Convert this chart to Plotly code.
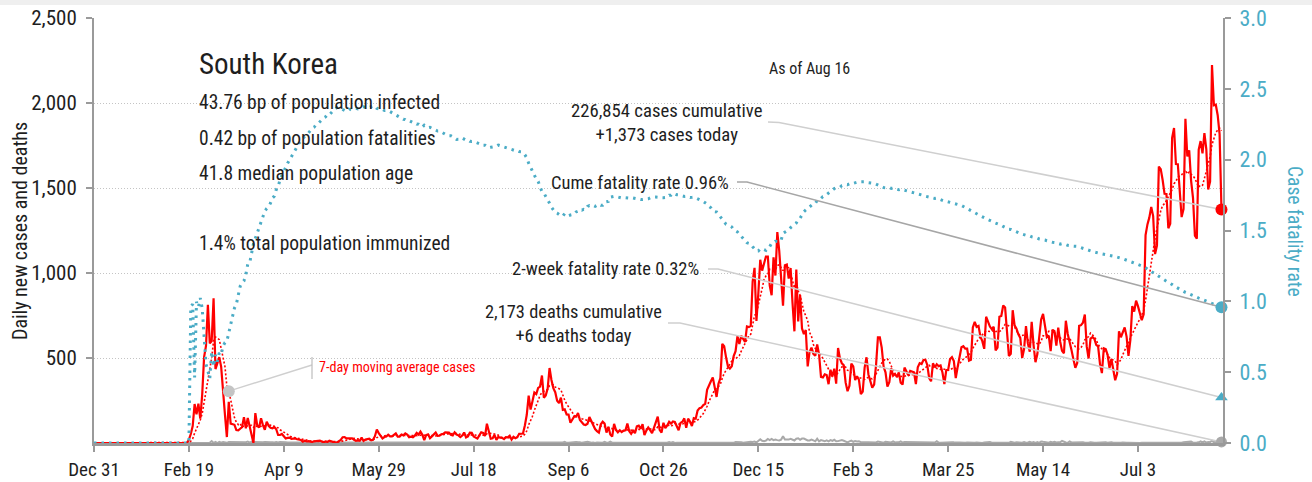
import datetime as dt
import pandas as pd
import plotly.graph_objects as go

# ---------------------------------------------------------------- data
START = "2019-12-31"

# daily new cases, one list per month
cases_2019_12 = [0]
cases_2020_01 = [0, 0, 0, 0, 0, 0, 0, 0, 0, 0, 0, 0, 0, 0, 0, 0, 0, 0, 0, 1,
                 0, 0, 0, 1, 0, 1, 1, 0, 0, 3, 4]
cases_2020_02 = [1, 3, 0, 1, 3, 4, 1, 0, 3, 0, 1, 0, 0, 0, 0, 1, 1, 1, 20, 53,
                 100, 229, 169, 231, 144, 284, 505, 571, 813]
cases_2020_03 = [586, 599, 851, 435, 467, 505, 448, 272, 165, 35, 242, 114, 110, 107, 76, 74,
                 84, 93, 152, 87, 147, 98, 64, 0, 176, 104, 91, 146, 105, 78, 125]
cases_2020_04 = [101, 89, 86, 94, 81, 47, 47, 53, 39, 27, 30, 32, 25, 27, 27, 22, 22, 18, 8, 13,
                 9, 11, 8, 6, 10, 10, 10, 14, 9, 4]
cases_2020_05 = [9, 6, 13, 8, 3, 2, 4, 12, 18, 34, 35, 27, 26, 29, 27, 19, 13, 15, 13, 32,
                 12, 20, 23, 25, 16, 19, 40, 79, 58, 39, 27]
cases_2020_06 = [35, 38, 49, 39, 39, 51, 57, 38, 38, 50, 45, 56, 49, 34, 37, 34, 43, 59, 49, 67,
                 48, 17, 46, 51, 28, 39, 51, 62, 42, 43]
cases_2020_07 = [51, 54, 63, 63, 61, 48, 44, 63, 50, 45, 35, 44, 62, 33, 39, 61, 60, 39, 34, 26,
                 45, 63, 59, 41, 113, 58, 25, 28, 48, 18, 36]
cases_2020_08 = [31, 30, 23, 34, 33, 43, 20, 36, 28, 34, 54, 56, 56, 103, 166, 279, 197, 246, 297, 288,
                 324, 332, 397, 266, 280, 320, 441, 371, 323, 299, 248]
cases_2020_09 = [235, 267, 195, 198, 168, 167, 119, 136, 156, 155, 176, 136, 121, 109, 106, 113,
                 153, 126, 110, 82, 70, 61, 110, 125, 114, 61, 95, 50, 38, 113]
cases_2020_10 = [77, 63, 75, 64, 73, 75, 114, 69, 54, 72, 58, 98, 102, 84, 110, 47, 73, 91, 76, 58,
                 89, 121, 155, 77, 61, 119, 88, 103, 125, 114, 127]
cases_2020_11 = [124, 97, 75, 118, 125, 145, 89, 143, 126, 100, 146, 143, 191, 205, 208, 223,
                 230, 313, 343, 363, 386, 330, 271, 349, 382, 583, 569, 504, 450, 438]
cases_2020_12 = [451, 511, 540, 629, 583, 631, 615, 594, 686, 682, 689, 950, 1030, 718, 880, 1078,
                 1014, 1064, 1097, 1097, 926, 869, 1092, 985, 1241, 1132, 970, 808, 1045, 1050, 967]
cases_2021_01 = [1029, 824, 657, 1020, 715, 870, 674, 641, 665, 451, 537, 561, 524, 513, 580, 520,
                 389, 386, 404, 400, 346, 431, 392, 437, 349, 559, 497, 469, 458, 355, 305]
cases_2021_02 = [336, 467, 451, 370, 393, 372, 288, 303, 444, 504, 403, 362, 326, 343, 457, 621,
                 621, 561, 448, 416, 332, 357, 440, 396, 406, 388, 415, 355]
cases_2021_03 = [344, 444, 424, 398, 424, 418, 416, 346, 446, 470, 465, 488, 490, 459, 382, 363,
                 469, 445, 463, 452, 456, 415, 346, 428, 430, 494, 505, 482, 382, 447, 506]
cases_2021_04 = [563, 569, 555, 555, 485, 490, 680, 712, 683, 689, 626, 599, 554, 743, 710, 685,
                 670, 684, 544, 561, 743, 747, 809, 797, 656, 512, 524, 781, 692, 673]
cases_2021_05 = [639, 618, 500, 553, 688, 586, 537, 713, 576, 475, 523, 647, 727, 759, 693, 622,
                 631, 540, 666, 658, 573, 678, 597, 542, 528, 719, 641, 599, 545, 492, 442]
cases_2021_06 = [471, 689, 693, 707, 756, 568, 497, 614, 623, 614, 577, 568, 464, 411, 557, 552,
                 519, 441, 494, 441, 369, 407, 657, 622, 646, 680, 626, 513, 607, 806]
cases_2021_07 = [773, 837, 805, 754, 722, 757, 1223, 1286, 1327, 1389, 1335, 1111, 1161, 1626, 1611,
                 1547, 1466, 1465, 1263, 1289, 1795, 1853, 1641, 1640, 1498, 1329, 1376, 1907,
                 1685, 1721, 1542]
cases_2021_08 = [1442, 1219, 1202, 1725, 1776, 1704, 1823, 1729, 1492, 1537, 2223, 1987, 1990,
                 1928, 1817, 1373]

# daily new deaths, one list per month
deaths_2019_12 = [0]
deaths_2020_01 = [0] * 31
deaths_2020_02 = [0, 0, 0, 0, 0, 0, 0, 0, 0, 0, 0, 0, 0, 0, 0, 0, 0, 0, 0, 1,
                  1, 0, 4, 2, 2, 2, 1, 0, 3]
deaths_2020_03 = [1, 11, 0, 7, 0, 7, 2, 6, 3, 1, 6, 6, 6, 5, 3, 6, 6, 3, 3, 5,
                  8, 2, 7, 6, 6, 5, 5, 5, 5, 6, 4]
deaths_2020_04 = [3, 4, 5, 3, 6, 3, 6, 4, 4, 4, 3, 3, 3, 3, 3, 4, 2, 2, 2, 2,
                  1, 2, 2, 2, 1, 2, 1, 2, 2, 1]
deaths_2020_05 = [1, 2, 0, 2, 2, 1, 1, 0, 0, 0, 0, 0, 1, 2, 0, 1, 1, 0, 1, 1,
                  1, 0, 1, 0, 1, 1, 1, 0, 1, 0, 1]
deaths_2020_06 = [0, 1, 1, 0, 0, 0, 1, 0, 0, 0, 0, 1, 0, 1, 0, 0, 1, 0, 1, 0,
                  0, 2, 0, 0, 1, 0, 0, 1, 0, 1]
deaths_2020_07 = [0, 0, 0, 1, 1, 1, 0, 0, 0, 1, 2, 1, 0, 0, 1, 0, 1, 1, 0, 0,
                  0, 0, 1, 1, 1, 0, 1, 1, 1, 1, 2]
deaths_2020_08 = [0, 0, 0, 0, 0, 0, 0, 0, 0, 1, 0, 1, 0, 0, 0, 0, 0, 0, 1, 1,
                  3, 0, 1, 3, 1, 2, 2, 1, 2, 1, 3]
deaths_2020_09 = [2, 2, 3, 7, 1, 1, 3, 3, 3, 6, 4, 5, 1, 3, 1, 7, 4, 1, 3, 0,
                  3, 3, 0, 2, 7, 2, 2, 8, 2, 2]
deaths_2020_10 = [1, 0, 0, 1, 2, 1, 1, 1, 1, 2, 0, 1, 1, 1, 2, 1, 1, 3, 3, 2,
                  2, 2, 2, 1, 1, 2, 2, 2, 6, 2, 6]
deaths_2020_11 = [0, 1, 1, 1, 2, 1, 2, 1, 1, 2, 3, 1, 2, 2, 1, 2, 2, 2, 1, 3,
                  1, 2, 4, 1, 2, 2, 3, 2, 5, 5]
deaths_2020_12 = [4, 1, 6, 6, 3, 4, 1, 3, 5, 8, 7, 6, 8, 3, 12, 22, 13, 11, 14, 24,
                  17, 24, 17, 20, 17, 15, 20, 40, 20, 20, 20]
deaths_2021_01 = [25, 19, 15, 25, 28, 19, 26, 26, 19, 15, 15, 20, 15, 10, 25, 10, 17, 15, 10, 15,
                  10, 17, 13, 19, 10, 11, 12, 17, 13, 8, 4]
deaths_2021_02 = [10, 14, 7, 11, 9, 10, 5, 6, 8, 5, 5, 5, 6, 6, 3, 8, 7, 3, 2, 7,
                  6, 7, 3, 9, 3, 4, 4, 10]
deaths_2021_03 = [3, 6, 6, 4, 3, 4, 3, 2, 6, 4, 5, 3, 4, 4, 5, 3, 6, 3, 10, 2,
                  1, 2, 3, 6, 4, 7, 5, 4, 3, 6, 5]
deaths_2021_04 = [1, 2, 2, 3, 2, 1, 3, 2, 3, 1, 2, 0, 3, 5, 4, 6, 2, 2, 4, 4,
                  4, 4, 3, 2, 3, 1, 7, 4, 2, 4]
deaths_2021_05 = [2, 4, 2, 6, 2, 3, 7, 2, 6, 1, 5, 1, 9, 7, 6, 2, 2, 7, 3, 7,
                  3, 4, 4, 12, 6, 3, 1, 9, 3, 3, 6]
deaths_2021_06 = [4, 3, 2, 4, 1, 0, 2, 5, 2, 1, 2, 3, 3, 2, 2, 4, 1, 3, 4, 1,
                  0, 2, 1, 1, 3, 1, 1, 2, 1, 1]
deaths_2021_07 = [1, 2, 1, 0, 1, 1, 1, 1, 2, 3, 0, 2, 1, 3, 3, 2, 2, 1, 1, 3,
                  2, 2, 3, 0, 1, 2, 5, 5, 7, 5, 8]
deaths_2021_08 = [2, 1, 3, 4, 9, 3, 9, 2, 6, 5, 13, 4, 7, 4, 3, 6]

stat_lines = ["43.76 bp of population infected",
              "0.42 bp of population fatalities",
              "41.8 median population age",
              "",
              "1.4% total population immunized"]
COUNTRY = "South Korea"
MA_LABEL_DATE = "2020-03-11"

y_ticks = [500, 1000, 1500, 2000, 2500]
y2_ticks = [0, 0.5, 1.0, 1.5, 2.0, 2.5, 3.0]

# ---------------------------------------------------------------- series
case_months = [cases_2019_12, cases_2020_01, cases_2020_02, cases_2020_03, cases_2020_04,
               cases_2020_05, cases_2020_06, cases_2020_07, cases_2020_08, cases_2020_09,
               cases_2020_10, cases_2020_11, cases_2020_12, cases_2021_01, cases_2021_02,
               cases_2021_03, cases_2021_04, cases_2021_05, cases_2021_06, cases_2021_07,
               cases_2021_08]
death_months = [deaths_2019_12, deaths_2020_01, deaths_2020_02, deaths_2020_03, deaths_2020_04,
                deaths_2020_05, deaths_2020_06, deaths_2020_07, deaths_2020_08, deaths_2020_09,
                deaths_2020_10, deaths_2020_11, deaths_2020_12, deaths_2021_01, deaths_2021_02,
                deaths_2021_03, deaths_2021_04, deaths_2021_05, deaths_2021_06, deaths_2021_07,
                deaths_2021_08]
for cm, dm in zip(case_months, death_months):
    assert len(cm) == len(dm), (len(cm), len(dm))

cases = [v for m in case_months for v in m]
deaths = [v for m in death_months for v in m]
dates = pd.date_range(START, periods=len(cases), freq="D")

s_cases = pd.Series(cases, index=dates, dtype=float)
s_deaths = pd.Series(deaths, index=dates, dtype=float)
ma7 = s_cases.rolling(7, min_periods=1).mean()
cum_cases = s_cases.cumsum()
cum_deaths = s_deaths.cumsum()
cfr = (cum_deaths / cum_cases * 100).where(cum_cases > 0, 0.0)
cfr_2wk = s_deaths.iloc[-14:].sum() / s_cases.iloc[-14:].sum() * 100

total_cases = int(cum_cases.iloc[-1])
total_deaths = int(cum_deaths.iloc[-1])
last_day = dates[-1]

# ---------------------------------------------------------------- geometry
W, H = 1312, 482
L, R, T, B = 94, 89, 18, 39
PW, PH = W - L - R, H - T - B
X_SPAN_DAYS = 594.8
Y_MAX, Y2_MAX = 2500, 3.0


def px_date(px):
    return dates[0] + pd.Timedelta(days=(px - L) / PW * X_SPAN_DAYS)


def py_val(py):
    return (T + PH - py) / PH * Y_MAX


def py_val2(py):
    return (T + PH - py) / PH * Y2_MAX


def paper_x(px):
    return (px - L) / PW


def paper_y(py):
    return (T + PH - py) / PH


RED = "#ff0000"
TEAL = "#4bacc6"
GREY = "#a9a9a9"
LEADER = "#cfcfcf"
INK = "#1e1e1e"
AXIS = "#9a9a9a"
FONT = "Roboto Condensed, Liberation Sans Narrow, DejaVu Sans Condensed, sans-serif"

fig = go.Figure()

# deaths, moving average, daily cases
fig.add_trace(go.Scatter(x=dates, y=s_deaths, mode="lines",
                         line=dict(color=GREY, width=2), hoverinfo="skip"))
fig.add_trace(go.Scatter(x=dates, y=ma7, mode="lines",
                         line=dict(color=RED, width=1.6, dash="2px,2px"), hoverinfo="skip"))
fig.add_trace(go.Scatter(x=dates, y=s_cases, mode="lines",
                         line=dict(color=RED, width=2.2), hoverinfo="skip"))

# leader lines for the case/death callouts (left axis)
fig.add_trace(go.Scatter(x=[px_date(768), px_date(779), last_day],
                         y=[py_val(122), py_val(122.5), s_cases.iloc[-1]],
                         mode="lines", line=dict(color=LEADER, width=1.6), hoverinfo="skip",
                         cliponaxis=False))
fig.add_trace(go.Scatter(x=[px_date(668), px_date(680), last_day],
                         y=[py_val(323), py_val(323), s_deaths.iloc[-1]],
                         mode="lines", line=dict(color=LEADER, width=1.6), hoverinfo="skip",
                         cliponaxis=False))
ma_pt = pd.Timestamp(MA_LABEL_DATE)
fig.add_trace(go.Scatter(x=[ma_pt, px_date(312)], y=[ma7.loc[ma_pt], py_val(365)],
                         mode="lines", line=dict(color=LEADER, width=1.4), hoverinfo="skip"))
fig.add_trace(go.Scatter(x=[px_date(312), px_date(312)], y=[py_val(357), py_val(379)],
                         mode="lines", line=dict(color="#bdbdbd", width=1.2), hoverinfo="skip"))

# end markers on the left axis
fig.add_trace(go.Scatter(x=[ma_pt], y=[ma7.loc[ma_pt]], mode="markers",
                         marker=dict(color="#c4c4c4", size=12), hoverinfo="skip"))
fig.add_trace(go.Scatter(x=[last_day], y=[s_deaths.iloc[-1]], mode="markers",
                         marker=dict(color=GREY, size=11), hoverinfo="skip", cliponaxis=False))
fig.add_trace(go.Scatter(x=[last_day], y=[s_cases.iloc[-1]], mode="markers",
                         marker=dict(color=RED, size=12), hoverinfo="skip", cliponaxis=False))

# case fatality rate (right axis)
fig.add_trace(go.Scatter(x=dates, y=cfr, yaxis="y2", mode="lines",
                         line=dict(color=TEAL, width=3, dash="2.5px,5px"), hoverinfo="skip"))
fig.add_trace(go.Scatter(x=[px_date(737), px_date(747), last_day],
                         y=[py_val2(182), py_val2(182), cfr.iloc[-1]], yaxis="y2",
                         mode="lines", line=dict(color="#a6a6a6", width=1.6), hoverinfo="skip",
                         cliponaxis=False))
fig.add_trace(go.Scatter(x=[px_date(708), px_date(718), last_day],
                         y=[py_val2(269), py_val2(269), cfr_2wk], yaxis="y2",
                         mode="lines", line=dict(color=LEADER, width=1.6), hoverinfo="skip",
                         cliponaxis=False))
fig.add_trace(go.Scatter(x=[last_day], y=[cfr_2wk], yaxis="y2", mode="markers",
                         marker=dict(color=TEAL, size=11, symbol="triangle-up"),
                         hoverinfo="skip", cliponaxis=False))
fig.add_trace(go.Scatter(x=[last_day], y=[cfr.iloc[-1]], yaxis="y2", mode="markers",
                         marker=dict(color=TEAL, size=12), hoverinfo="skip", cliponaxis=False))

# ---------------------------------------------------------------- text
notes = []


def note(text, px, py, size, xanchor="left", color=INK, angle=0, align="left"):
    notes.append(dict(text=text, x=paper_x(px), y=paper_y(py), xref="paper", yref="paper",
                      xanchor=xanchor, yanchor="middle", showarrow=False, align=align,
                      textangle=angle, font=dict(family=FONT, size=size, color=color)))


note(COUNTRY, 197, 63.5, 29)
for i, line in enumerate(stat_lines):
    if line:
        note(line, 197, 103 + 35 * i, 19.5)
note("As of " + last_day.strftime("%b %-d"), 809, 68, 16, xanchor="center")
note(f"{total_cases:,} cases cumulative<br>+{cases[-1]:,} cases today", 667, 123, 18.7,
     xanchor="center", align="center")
note(f"Cume fatality rate {cfr.iloc[-1]:.2f}%", 731, 182.7, 18.5, xanchor="right")
note(f"2-week fatality rate {cfr_2wk:.2f}%", 701, 269, 18.5, xanchor="right")
note(f"{total_deaths:,} deaths cumulative<br>+{deaths[-1]:,} deaths today", 573, 323.5, 18.4,
     xanchor="center", align="center")
note("7-day moving average cases", 317, 367, 14.1, color=RED)
note("Daily new cases and deaths", 20, 231, 20, xanchor="center", angle=-90)
note("Case fatality rate", 1295, 231, 19.5, xanchor="center", angle=90, color=TEAL)

fig.update_layout(
    width=W, height=H,
    margin=dict(l=L, r=R, t=T, b=B, pad=0, autoexpand=False),
    paper_bgcolor="white", plot_bgcolor="white",
    showlegend=False,
    font=dict(family=FONT, color=INK),
    annotations=notes,
    shapes=[dict(type="rect", xref="paper", yref="paper",
                 x0=paper_x(0), x1=paper_x(W), y0=paper_y(5), y1=paper_y(0),
                 fillcolor="#efefef", line=dict(width=0), layer="below")],
    xaxis=dict(type="date", automargin=False,
               range=[dates[0], dates[0] + pd.Timedelta(days=X_SPAN_DAYS)],
               tick0=dates[0], dtick=50 * 86400000, tickformat="%b %-d",
               ticks="outside", ticklen=6, tickwidth=2, tickcolor=AXIS,
               showline=True, linecolor=AXIS, linewidth=2.5,
               showgrid=False, zeroline=False, ticklabelstandoff=1,
               tickfont=dict(family=FONT, size=19, color=INK)),
    yaxis=dict(range=[0, Y_MAX], tickvals=y_ticks, tickformat=",", automargin=False,
               ticks="outside", ticklen=6, tickwidth=2, tickcolor=AXIS,
               showline=True, linecolor=AXIS, linewidth=2,
               showgrid=True, gridcolor="#c4c4c4", gridwidth=1.2, griddash="1px,2px",
               zeroline=False, ticklabelstandoff=5,
               tickfont=dict(family=FONT, size=21, color=INK)),
    yaxis2=dict(range=[0, Y2_MAX], tickvals=y2_ticks, tickformat=".1f", ticksuffix="%",
                overlaying="y", side="right", automargin=False,
                ticks="outside", ticklen=6, tickwidth=2, tickcolor=AXIS,
                showline=True, linecolor=AXIS, linewidth=2,
                showgrid=False, zeroline=False, ticklabelstandoff=4,
                tickfont=dict(family=FONT, size=22, color=TEAL)),
)

fig.write_html("out.html")
